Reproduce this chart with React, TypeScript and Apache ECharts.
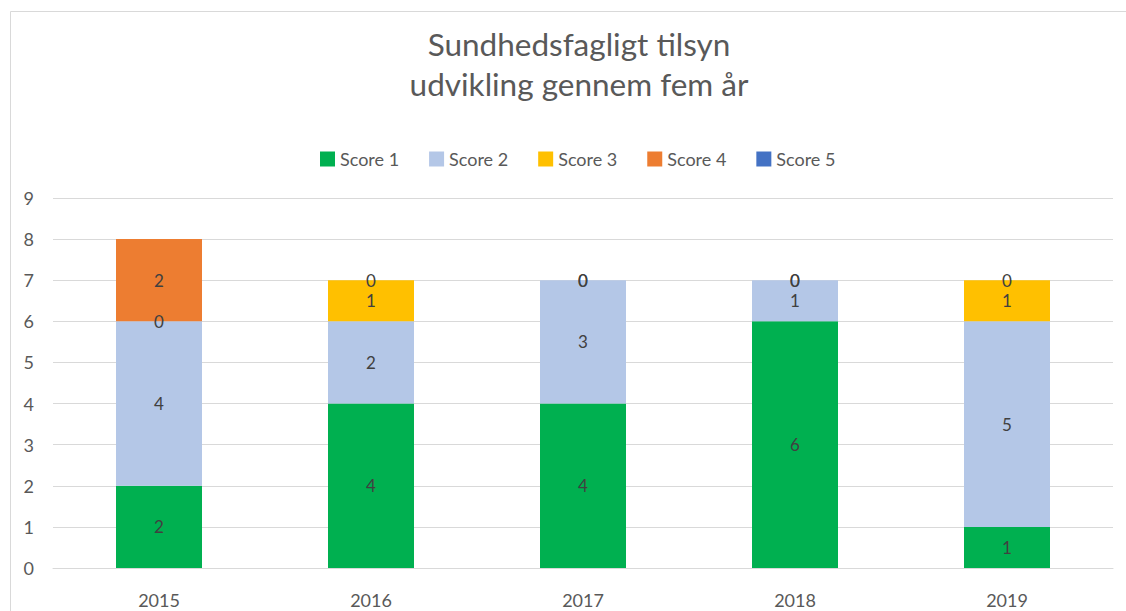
import React, { useEffect, useRef } from "react";
import * as echarts from "echarts";

const years = ["2015", "2016", "2017", "2018", "2019"];
const score1 = [2, 4, 4, 6, 1];
const score2 = [4, 2, 3, 1, 5];
const score3 = [0, 1, 0, 0, 1];
const score4 = [2, 0, 0, 0, 0];
const score5: (number | null)[] = [null, null, null, null, null];
const seriesNames = ["Score 1", "Score 2", "Score 3", "Score 4", "Score 5"];
const seriesColors = ["#00b050", "#b4c7e7", "#ffc000", "#ed7d31", "#4472c4"];
const yTicks = [0, 1, 2, 3, 4, 5, 6, 7, 8, 9];

const FONT = "Lato, 'Open Sans', sans-serif";

export default function App() {
  const ref = useRef<HTMLDivElement>(null);
  useEffect(() => {
    document.body.style.margin = "0";
    if (!ref.current) return;
    const chart = echarts.init(ref.current, undefined, { renderer: "svg" });
    const allData = [score1, score2, score3, score4, score5];
    chart.setOption({
      animation: false,
      backgroundColor: "#ffffff",
      textStyle: { fontFamily: FONT },
      title: {
        text: "Sundhedsfagligt tilsyn\nudvikling gennem fem år",
        left: 574,
        textAlign: "center",
        top: 19,
        textStyle: {
          fontFamily: FONT,
          fontSize: 31.5,
          fontWeight: "normal",
          color: "#595959",
          lineHeight: 40,
        },
      },
      legend: {
        data: seriesNames,
        top: 145,
        left: 315,
        itemWidth: 15,
        itemHeight: 15,
        itemGap: 30,
        icon: "rect",
        textStyle: { fontFamily: FONT, fontSize: 18, color: "#595959" },
      },
      graphic: [
        {
          type: "rect",
          shape: { x: 10.5, y: 11.5, width: 1130, height: 620 },
          style: { fill: "none", stroke: "#d9d9d9", lineWidth: 1 },
          silent: true,
          z: -10,
        },
      ],
      grid: { left: 53, right: 13, top: 198, bottom: 43, containLabel: false },
      xAxis: {
        type: "category",
        data: years,
        axisLine: { lineStyle: { color: "#d9d9d9" } },
        axisTick: { show: false },
        axisLabel: { color: "#595959", fontSize: 18, margin: 23, fontFamily: FONT },
      },
      yAxis: {
        type: "value",
        min: yTicks[0],
        max: yTicks[yTicks.length - 1],
        interval: 1,
        axisLine: { show: false },
        axisTick: { show: false },
        splitLine: { lineStyle: { color: "#d9d9d9" } },
        axisLabel: { color: "#595959", fontSize: 18, margin: 19, fontFamily: FONT },
      },
      series: seriesNames.map((name, i) => ({
        name,
        type: "bar",
        stack: "total",
        barWidth: 86,
        data: allData[i],
        itemStyle: { color: seriesColors[i] },
        label: {
          show: true,
          position: "inside",
          color: "#404040",
          fontSize: 17,
          fontFamily: FONT,
        },
      })),
    });
    return () => chart.dispose();
  }, []);
  return <div ref={ref} style={{ width: 1126, height: 611 }} />;
}
